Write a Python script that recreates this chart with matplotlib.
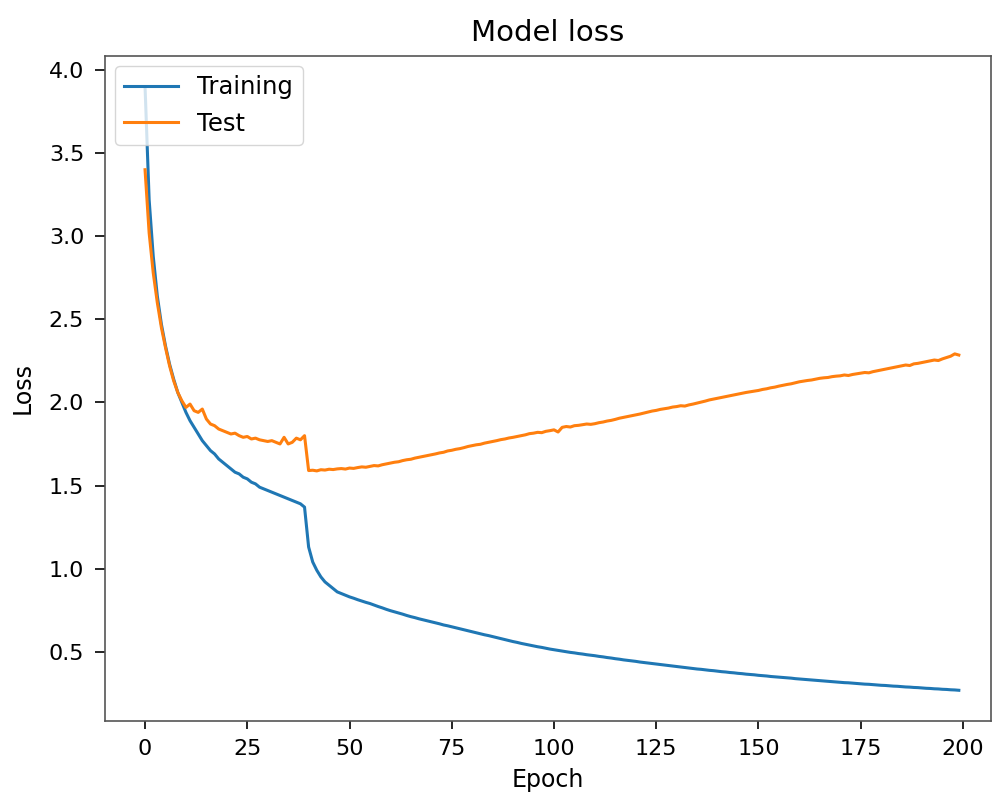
#!/usr/bin/env python3
"""
Model loss plot: training vs test loss over 200 epochs.
"""

import matplotlib
matplotlib.use("Agg")
import matplotlib.pyplot as plt

# Loss values, one per epoch (0..199)
training_loss = [
    3.900, 3.220, 2.880, 2.640, 2.470, 2.340, 2.230, 2.140, 2.060, 2.000,
    1.940, 1.890, 1.850, 1.810, 1.770, 1.740, 1.710, 1.690, 1.660, 1.640,
    1.620, 1.600, 1.580, 1.570, 1.550, 1.540, 1.520, 1.510, 1.490, 1.480,
    1.470, 1.460, 1.450, 1.440, 1.430, 1.420, 1.410, 1.400, 1.390, 1.370,
    1.130, 1.040, 0.990, 0.950, 0.920, 0.900, 0.880, 0.860, 0.850, 0.840,
    0.830, 0.822, 0.813, 0.805, 0.797, 0.790, 0.781, 0.772, 0.764, 0.755,
    0.747, 0.740, 0.733, 0.726, 0.718, 0.711, 0.705, 0.698, 0.692, 0.686,
    0.680, 0.674, 0.668, 0.661, 0.656, 0.650, 0.644, 0.638, 0.632, 0.626,
    0.620, 0.614, 0.608, 0.602, 0.597, 0.591, 0.585, 0.579, 0.573, 0.567,
    0.561, 0.556, 0.550, 0.545, 0.540, 0.535, 0.530, 0.526, 0.521, 0.516,
    0.512, 0.508, 0.504, 0.500, 0.496, 0.493, 0.489, 0.486, 0.482, 0.479,
    0.476, 0.472, 0.469, 0.465, 0.462, 0.458, 0.455, 0.451, 0.448, 0.445,
    0.442, 0.438, 0.435, 0.432, 0.429, 0.426, 0.423, 0.420, 0.417, 0.414,
    0.411, 0.408, 0.405, 0.402, 0.399, 0.396, 0.394, 0.391, 0.388, 0.386,
    0.383, 0.380, 0.378, 0.375, 0.373, 0.370, 0.368, 0.365, 0.363, 0.361,
    0.358, 0.356, 0.354, 0.351, 0.349, 0.347, 0.345, 0.343, 0.341, 0.338,
    0.336, 0.334, 0.332, 0.330, 0.328, 0.326, 0.324, 0.322, 0.320, 0.318,
    0.316, 0.314, 0.313, 0.311, 0.309, 0.307, 0.305, 0.304, 0.302, 0.300,
    0.298, 0.297, 0.295, 0.293, 0.292, 0.290, 0.288, 0.287, 0.285, 0.284,
    0.282, 0.280, 0.279, 0.277, 0.276, 0.274, 0.273, 0.271, 0.270, 0.268,
]

test_loss = [
    3.400, 3.020, 2.780, 2.600, 2.450, 2.330, 2.220, 2.130, 2.060, 2.010,
    1.970, 1.990, 1.950, 1.940, 1.960, 1.900, 1.870, 1.860, 1.840, 1.830,
    1.820, 1.810, 1.815, 1.800, 1.790, 1.795, 1.780, 1.785, 1.775, 1.770,
    1.765, 1.770, 1.760, 1.750, 1.790, 1.750, 1.760, 1.785, 1.775, 1.800,
    1.590, 1.592, 1.588, 1.595, 1.593, 1.598, 1.596, 1.600, 1.602, 1.599,
    1.605, 1.603, 1.608, 1.612, 1.610, 1.615, 1.620, 1.618, 1.625, 1.630,
    1.635, 1.640, 1.643, 1.650, 1.655, 1.658, 1.665, 1.670, 1.675, 1.680,
    1.685, 1.690, 1.696, 1.700, 1.708, 1.712, 1.718, 1.722, 1.728, 1.735,
    1.740, 1.745, 1.748, 1.755, 1.760, 1.765, 1.770, 1.776, 1.780, 1.786,
    1.790, 1.795, 1.800, 1.805, 1.812, 1.815, 1.820, 1.818, 1.826, 1.830,
    1.835, 1.822, 1.850, 1.855, 1.852, 1.860, 1.862, 1.866, 1.870, 1.868,
    1.872, 1.878, 1.882, 1.888, 1.892, 1.898, 1.905, 1.910, 1.915, 1.920,
    1.925, 1.930, 1.936, 1.942, 1.948, 1.952, 1.958, 1.962, 1.966, 1.972,
    1.975, 1.980, 1.978, 1.985, 1.990, 1.996, 2.002, 2.008, 2.015, 2.020,
    2.025, 2.030, 2.035, 2.040, 2.045, 2.050, 2.055, 2.060, 2.064, 2.068,
    2.072, 2.078, 2.082, 2.088, 2.092, 2.098, 2.103, 2.108, 2.112, 2.118,
    2.124, 2.128, 2.132, 2.135, 2.140, 2.145, 2.148, 2.150, 2.155, 2.158,
    2.160, 2.165, 2.162, 2.168, 2.172, 2.176, 2.180, 2.178, 2.185, 2.190,
    2.195, 2.200, 2.205, 2.210, 2.215, 2.220, 2.225, 2.222, 2.232, 2.235,
    2.240, 2.245, 2.250, 2.255, 2.252, 2.262, 2.270, 2.278, 2.292, 2.285,
]

epochs = list(range(len(training_loss)))
series_labels = ["Training", "Test"]
x_ticks = [0, 25, 50, 75, 100, 125, 150, 175, 200]
y_ticks = [0.5, 1.0, 1.5, 2.0, 2.5, 3.0, 3.5, 4.0]


def plot_loss() -> None:
    """Draw training and test loss curves and save to out.png."""
    plt.rcParams.update({
        "font.family": "DejaVu Sans",
        "font.size": 16,
        "axes.linewidth": 1.2,
        "xtick.major.size": 6,
        "ytick.major.size": 7,
        "xtick.major.width": 1.2,
        "ytick.major.width": 1.2,
        "xtick.major.pad": 7,
        "ytick.major.pad": 8,
    })

    fig, ax = plt.subplots(figsize=(9.95, 7.96), dpi=100)
    fig.subplots_adjust(left=0.1055, right=0.9957, bottom=0.0946, top=0.9296)

    ax.plot(epochs, training_loss, color="#1f77b4", linewidth=2.2, label=series_labels[0])
    ax.plot(epochs, test_loss, color="#ff7f0e", linewidth=2.2, label=series_labels[1])

    ax.set_title("Model loss", fontsize=21, pad=11)
    ax.set_xlabel("Epoch", fontsize=17, labelpad=7)
    ax.set_ylabel("Loss", fontsize=17, labelpad=10)
    ax.set_xticks(x_ticks)
    ax.set_yticks(y_ticks)
    ax.tick_params(labelsize=16)
    ax.set_xlim(-9.8, 206.8)
    ax.set_ylim(0.085, 4.084)
    for spine in ax.spines.values():
        spine.set_color("#555555")

    ax.legend(loc="upper left", fontsize=17.5, framealpha=0.8,
              handlelength=2.2, borderaxespad=0.4)

    fig.savefig("out.png", dpi=100)


def main():
    plot_loss()


if __name__ == "__main__":
    main()
